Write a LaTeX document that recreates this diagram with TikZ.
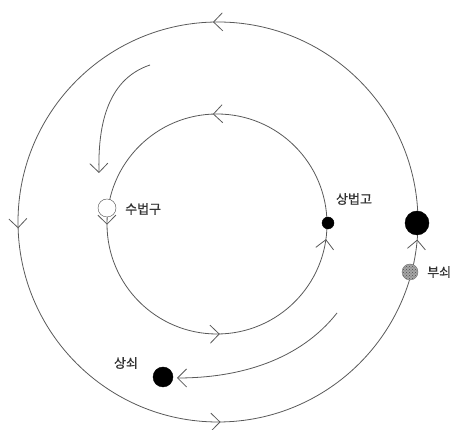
\documentclass[tikz,border=0pt]{standalone}
\usepackage{fontspec}
\newfontfamily\krfont[FakeBold=1]{Noto Sans CJK KR}
\usetikzlibrary{arrows.meta, decorations.markings, patterns}

\begin{document}
\begin{tikzpicture}[
  x=1pt, y=1pt,
  >={Straight Barb[length=9pt, width=18pt]},
  orbit/.style={draw=black!65, line width=0.8pt},
  arr/.style={->, draw=black!65, line width=0.8pt},
  dot/.style={circle, draw=black, fill=black, inner sep=0pt},
  lbl/.style={font=\krfont\fontsize{13}{15}\selectfont, text=black!80, inner sep=0pt}
]
\useasboundingbox (0,0) rectangle (455,430);

% the two rings
\coordinate (oc) at (218,208);
\coordinate (ic) at (217,206);
\draw[orbit, postaction={decorate}, decoration={markings,
    mark=at position 0.254 with {\arrow[black!65, line width=0.8pt]{>}},
    mark=at position 0.505 with {\arrow[black!65, line width=0.8pt]{>}},
    mark=at position 0.752 with {\arrow[black!65, line width=0.8pt]{>}},
    mark=at position 0.986 with {\arrow[black!65, line width=0.8pt]{>}}}]
  (oc) ++(0:200) arc (0:360:200);
\draw[orbit, postaction={decorate}, decoration={markings,
    mark=at position 0.256 with {\arrow[black!65, line width=0.8pt]{>}},
    mark=at position 0.501 with {\arrow[black!65, line width=0.8pt]{>}},
    mark=at position 0.754 with {\arrow[black!65, line width=0.8pt]{>}},
    mark=at position 0.978 with {\arrow[black!65, line width=0.8pt]{>}}}]
  (ic) ++(0:110) arc (0:360:110);

% bodies
\node[dot, fill=white, draw=black!70, minimum size=18pt] (sbg) at (107,222) {};
\node[dot, minimum size=12pt] (sbgo) at (328,207) {};
\node[dot, minimum size=24pt] (big) at (417,207) {};
\node[dot, draw=black!55, fill=black!35, minimum size=16pt] (bs) at (410,158) {};
\fill[pattern=crosshatch dots, pattern color=black!70] (bs.center) circle (7.5pt);
\node[dot, minimum size=20pt] (ss) at (163,53) {};

% labels
\node[lbl, anchor=west] (sbgl) at (125,221) {수법구};
\node[lbl] (sbgol) at (354,231) {상법고};
\node[lbl, anchor=west] (bsl) at (427,158) {부쇠};
\node[lbl] (ssl) at (126,67) {상쇠};

% drift arrows
\coordinate (d1a) at (150,365);
\coordinate (d1b) at (99,257);
\coordinate (d2a) at (337,117);
\coordinate (d2b) at (177,52);
\draw[arr] (d1a) .. controls (105,350) and (98,300) .. (d1b);
\draw[arr] (d2a) .. controls (300,70) and (240,52) .. (d2b);
\end{tikzpicture}
\end{document}
